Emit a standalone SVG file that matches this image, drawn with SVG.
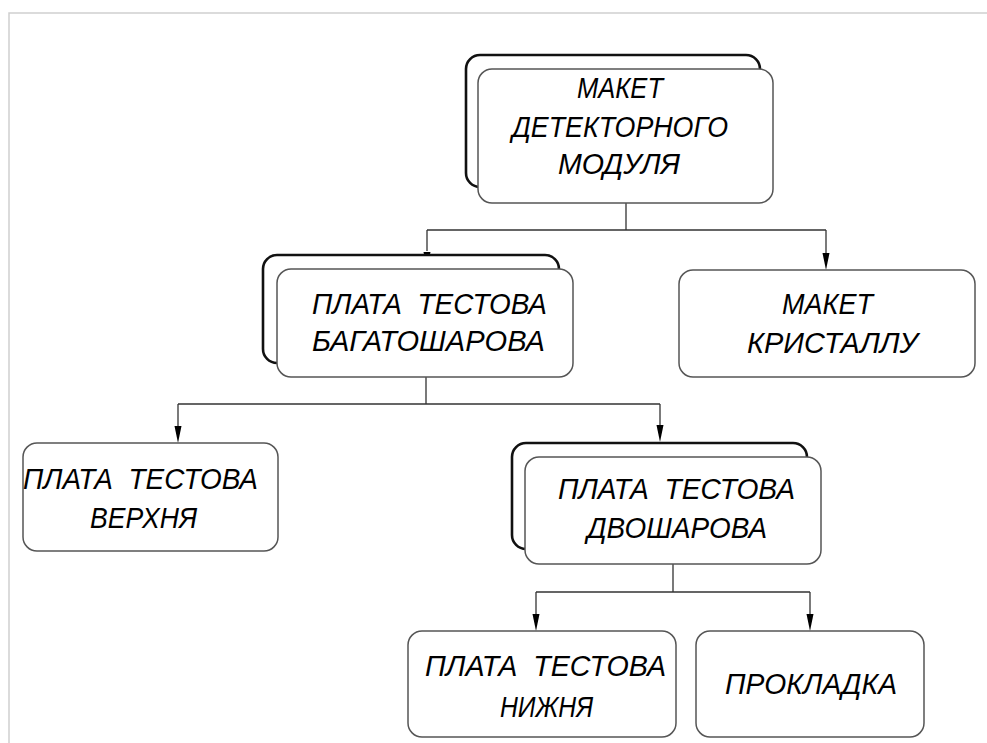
<svg xmlns="http://www.w3.org/2000/svg" width="987" height="743" viewBox="0 0 987 743">
<style>
.back{fill:#fff;stroke:#111;stroke-width:2.6}
.front{fill:#fff;stroke:#555;stroke-width:1.5}
.box{fill:#fff;stroke:#555;stroke-width:1.5}
.lbl{font-family:"Liberation Sans",Arial,sans-serif;font-style:italic;font-size:29px;fill:#000;white-space:pre}
.conn{fill:none;stroke:#333;stroke-width:1.3}
.frame{fill:none;stroke:#cfcfcf;stroke-width:1.5}
</style>
<rect width="987" height="743" fill="#fff"/>
<path class="frame" d="M9,743 V13 H987"/>
<g id="connectors">
<path class="conn" d="M626,203 V230 M427,230 H826"/>
<path class="conn" d="M427,230 V251"/>
<path d="M423.5,252 L430.5,252 L427,269 Z" fill="#000"/>
<path class="conn" d="M826,230 V253"/>
<path d="M822.5,253 L829.5,253 L826,270 Z" fill="#000"/>
<path class="conn" d="M426,377 V404 M178,404 H660"/>
<path class="conn" d="M178,404 V426"/>
<path d="M174.5,426 L181.5,426 L178,443 Z" fill="#000"/>
<path class="conn" d="M660,404 V425"/>
<path d="M656.5,425 L663.5,425 L660,442 Z" fill="#000"/>
<path class="conn" d="M673,564 V592 M536,592 H810"/>
<path class="conn" d="M536,592 V614"/>
<path d="M532.5,614 L539.5,614 L536,631 Z" fill="#000"/>
<path class="conn" d="M810,592 V614"/>
<path d="M806.5,614 L813.5,614 L810,631 Z" fill="#000"/>
</g>
<g id="node-maket-modulya">
<rect class="back" x="466" y="55" width="294" height="132" rx="14"/>
<rect class="front" x="478" y="69" width="295" height="134" rx="14"/>
<text class="lbl" x="577" y="98" textLength="86" lengthAdjust="spacingAndGlyphs">МАКЕТ</text>
<text class="lbl" x="512" y="137" textLength="216" lengthAdjust="spacingAndGlyphs">ДЕТЕКТОРНОГО</text>
<text class="lbl" x="558" y="174" textLength="122" lengthAdjust="spacingAndGlyphs">МОДУЛЯ</text>
</g>
<g id="node-bagatosharova">
<rect class="back" x="263" y="255" width="296" height="108" rx="14"/>
<rect class="front" x="277" y="269" width="296" height="108" rx="14"/>
<text class="lbl" x="312" y="314" textLength="235" lengthAdjust="spacingAndGlyphs" xml:space="preserve">ПЛАТА  ТЕСТОВА</text>
<text class="lbl" x="312" y="351" textLength="233" lengthAdjust="spacingAndGlyphs">БАГАТОШАРОВА</text>
</g>
<g id="node-maket-kristallu">
<rect class="box" x="679" y="270" width="296" height="107" rx="14"/>
<text class="lbl" x="782" y="314" textLength="91" lengthAdjust="spacingAndGlyphs">МАКЕТ</text>
<text class="lbl" x="747" y="353" textLength="171" lengthAdjust="spacingAndGlyphs">КРИСТАЛЛУ</text>
</g>
<g id="node-verkhnya">
<rect class="box" x="23" y="443" width="255" height="108" rx="14"/>
<text class="lbl" x="23" y="489" textLength="235" lengthAdjust="spacingAndGlyphs" xml:space="preserve">ПЛАТА  ТЕСТОВА</text>
<text class="lbl" x="90" y="528" textLength="107" lengthAdjust="spacingAndGlyphs">ВЕРХНЯ</text>
</g>
<g id="node-dvosharova">
<rect class="back" x="512" y="443" width="295" height="106" rx="14"/>
<rect class="front" x="525" y="457" width="296" height="107" rx="14"/>
<text class="lbl" x="558" y="499" textLength="237" lengthAdjust="spacingAndGlyphs" xml:space="preserve">ПЛАТА  ТЕСТОВА</text>
<text class="lbl" x="587" y="538" textLength="180" lengthAdjust="spacingAndGlyphs">ДВОШАРОВА</text>
</g>
<g id="node-nyzhnya">
<rect class="box" x="408" y="631" width="268" height="106" rx="14"/>
<text class="lbl" x="425" y="676" textLength="241" lengthAdjust="spacingAndGlyphs" xml:space="preserve">ПЛАТА  ТЕСТОВА</text>
<text class="lbl" x="500" y="717" textLength="93" lengthAdjust="spacingAndGlyphs">НИЖНЯ</text>
</g>
<g id="node-prokladka">
<rect class="box" x="696" y="631" width="228" height="106" rx="14"/>
<text class="lbl" x="725" y="694" textLength="172" lengthAdjust="spacingAndGlyphs">ПРОКЛАДКА</text>
</g>
</svg>
